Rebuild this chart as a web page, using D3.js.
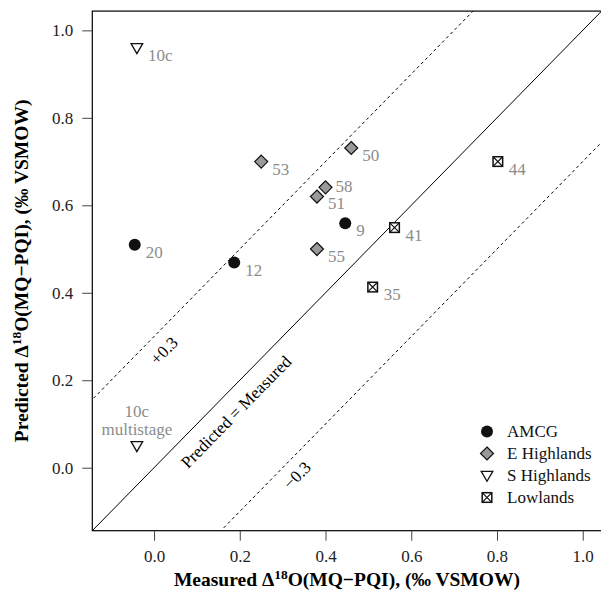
<!DOCTYPE html>
<html>
<head>
<meta charset="utf-8">
<script src="https://cdn.jsdelivr.net/npm/d3@7"></script>
<style>
  body { margin: 0; background: #fff; }
  svg text { font-family: "Liberation Serif", "Times New Roman", Times, serif; }
</style>
</head>
<body>
<svg id="chart" width="601" height="600"></svg>
<script>

// sample ids, groups and values
let ids = ["10c", "20", "12", "9", "53", "50", "58", "51", "55", "41", "44", "35", "10c"]
let groups = ["S", "AMCG", "AMCG", "AMCG", "E", "E", "E", "E", "E", "L", "L", "L", "S"]
let measured = [-0.04, -0.045, 0.187, 0.446, 0.25, 0.46, 0.40, 0.38, 0.38, 0.561, 0.802, 0.51, -0.04]
let predicted = [0.96, 0.51, 0.469, 0.559, 0.70, 0.731, 0.641, 0.62, 0.50, 0.549, 0.70, 0.413, 0.05]

let xTicks = [0.0, 0.2, 0.4, 0.6, 0.8, 1.0]
let yTicks = [0.0, 0.2, 0.4, 0.6, 0.8, 1.0]

let legendKeys = ["AMCG", "E", "S", "L"]
let legendNames = ["AMCG", "E Highlands", "S Highlands", "Lowlands"]

let offsets = [0.3, 0, -0.3]

let margin = { top: 11.1, right: 0, bottom: 69.3, left: 92.3 },
    width = 601.6 - margin.left,
    height = 530.7 - margin.top

let svg = d3.select('#chart')
let g = svg.append('g').attr('transform', `translate(${margin.left}, ${margin.top})`)

let x = d3.scaleLinear().domain([-0.144, 1.044]).range([0, width])
let y = d3.scaleLinear().domain([-0.144, 1.044]).range([height, 0])

let gray = "#8c8c8c"
let fmt = d3.format(".1f")

g.append('clipPath').attr('id', 'clip')
    .append('rect').attr('width', width).attr('height', height)

// 1:1 line and the +/-0.3 lines
g.append('g').attr('clip-path', 'url(#clip)')
    .selectAll('line').data(offsets).enter().append('line')
    .attr('x1', x(-0.2)).attr('y1', d => y(-0.2 + d))
    .attr('x2', x(1.2)).attr('y2', d => y(1.2 + d))
    .attr('stroke', '#000')
    .attr('stroke-width', 1)
    .attr('stroke-dasharray', d => d == 0 ? null : '3,3')

// rotated labels along the lines
let angle = Math.atan2(y(0) - y(1), x(1) - x(0)) * 180 / Math.PI
let lineLabels = [["+0.3", 0.023, 0.268], ["Predicted = Measured", 0.191, 0.128], ["\u22120.3", 0.333, -0.017]]
g.selectAll('.linelab').data(lineLabels).enter().append('text')
    .attr('class', 'linelab')
    .attr('transform', d => `translate(${x(d[1])}, ${y(d[2])}) rotate(${-angle})`)
    .attr('text-anchor', 'middle')
    .attr('dy', '0.35em')
    .style('font-size', '17px')
    .text(d => d[0])

// box (right side falls just off the page, as in the figure)
g.append('rect').attr('width', width + 2).attr('height', height)
    .attr('fill', 'none').attr('stroke', '#000').attr('stroke-width', 1.2)

// axes
let xAxis = g.append('g')
    .attr('transform', `translate(0, ${height})`)
    .call(d3.axisBottom(x).tickValues(xTicks).tickFormat(fmt).tickSize(10).tickPadding(9))
xAxis.select('.domain').remove()
xAxis.selectAll('text').style('font-size', '17px').attr('fill', '#222')
xAxis.selectAll('line').attr('stroke', '#444')

let yAxis = g.append('g')
    .call(d3.axisLeft(y).tickValues(yTicks).tickFormat(fmt).tickSize(10).tickPadding(9))
yAxis.select('.domain').remove()
yAxis.selectAll('text').style('font-size', '17px').attr('fill', '#222')
yAxis.selectAll('line').attr('stroke', '#444')

// symbol drawing
function drawSymbol(sel, key) {
    if (key == "AMCG") {
        sel.append('circle').attr('r', 6).attr('fill', '#111')
    } else if (key == "E") {
        sel.append('path').attr('d', 'M0,-6.5L6.5,0L0,6.5L-6.5,0Z')
            .attr('fill', '#999').attr('stroke', '#111').attr('stroke-width', 1.2)
    } else if (key == "S") {
        sel.append('path').attr('d', 'M-5.8,-4.2L5.8,-4.2L0,5.8Z')
            .attr('fill', '#fff').attr('stroke', '#111').attr('stroke-width', 1.3)
    } else {
        sel.append('rect').attr('x', -4.8).attr('y', -4.8).attr('width', 9.6).attr('height', 9.6)
            .attr('fill', '#fff').attr('stroke', '#111').attr('stroke-width', 1.5)
        sel.append('path').attr('d', 'M-4.8,-4.8L4.8,4.8M-4.8,4.8L4.8,-4.8')
            .attr('stroke', '#111').attr('stroke-width', 1.2)
    }
}

let pts = g.selectAll('.pt').data(ids.map((d, i) => i)).enter().append('g')
    .attr('class', 'pt')
    .attr('transform', i => `translate(${x(measured[i])}, ${y(predicted[i])})`)
pts.each(function (i) { drawSymbol(d3.select(this), groups[i]) })

// point labels (58 sits level with its point, the multistage point is labelled above)
pts.filter(i => i < ids.length - 1).append('text')
    .attr('x', i => ids[i] == "58" ? 10 : 11)
    .attr('y', i => ids[i] == "58" ? -1 : 7)
    .attr('dy', '0.35em')
    .attr('fill', gray).style('font-size', '17px')
    .text(i => ids[i])

let multi = pts.filter(i => i == ids.length - 1)
multi.append('text').attr('y', -35).attr('text-anchor', 'middle')
    .attr('dy', '0.35em').attr('fill', gray).style('font-size', '17px')
    .text(i => ids[i])
multi.append('text').attr('y', -16.5).attr('text-anchor', 'middle')
    .attr('dy', '0.35em').attr('fill', gray).style('font-size', '17px')
    .text('multistage')

// legend
let legend = svg.append('g').selectAll('g').data(legendKeys).enter().append('g')
    .attr('transform', (d, i) => `translate(487, ${431.5 + i * 22})`)
legend.each(function (d) { drawSymbol(d3.select(this), d) })
legend.append('text').attr('x', 20).attr('dy', '0.35em')
    .style('font-size', '17px').attr('fill', '#111')
    .text((d, i) => legendNames[i])

// axis titles
let xt = svg.append('text')
    .attr('x', margin.left + width / 2).attr('y', 586)
    .attr('text-anchor', 'middle')
    .style('font-size', '19.5px').style('font-weight', 'bold')
xt.append('tspan').text('Measured \u0394')
xt.append('tspan').attr('dy', -7.5).style('font-size', '13.5px').text('18')
xt.append('tspan').attr('dy', 7.5).text('O(MQ\u2212PQI), (\u2030 VSMOW)')

let yt = svg.append('text')
    .attr('transform', `translate(28, ${margin.top + height / 2}) rotate(-90)`)
    .attr('text-anchor', 'middle')
    .style('font-size', '19.5px').style('font-weight', 'bold')
yt.append('tspan').text('Predicted \u0394')
yt.append('tspan').attr('dy', -7.5).style('font-size', '13.5px').text('18')
yt.append('tspan').attr('dy', 7.5).text('O(MQ\u2212PQI), (\u2030 VSMOW)')

</script>
</body>
</html>
